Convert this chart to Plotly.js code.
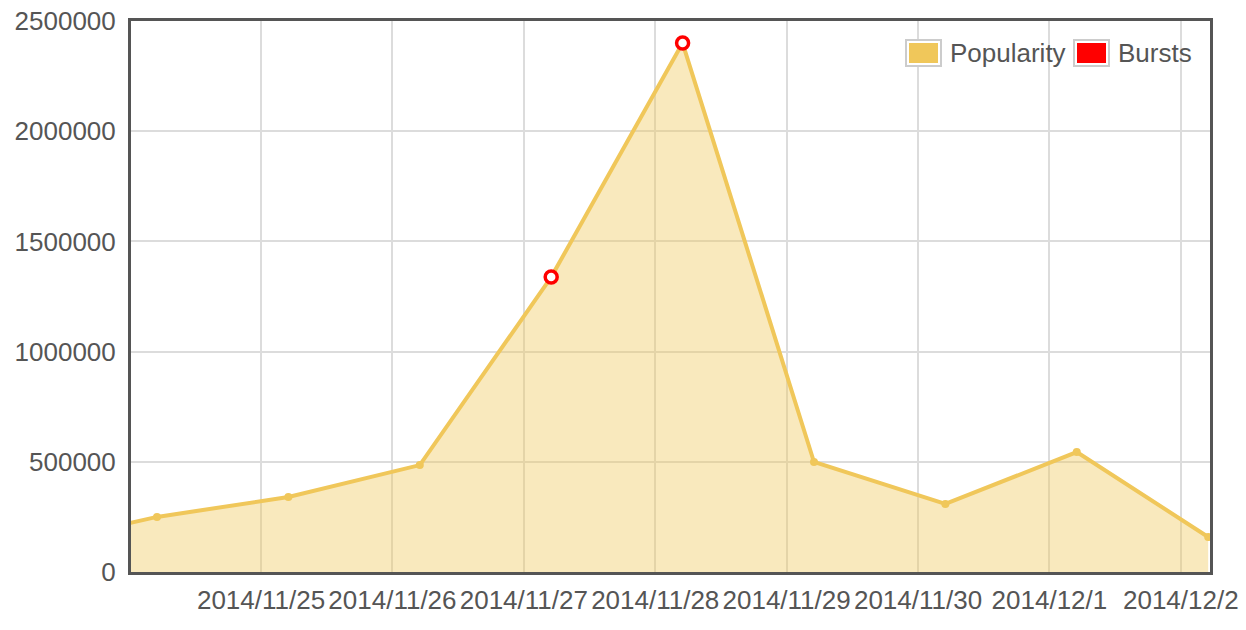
<!DOCTYPE html>
<html>
<head>
<meta charset="utf-8">
<script src="https://cdn.plot.ly/plotly-3.0.1.min.js"></script>
<style>
html,body{margin:0;padding:0;background:#fff;}
#chart{width:1246px;height:630px;}
</style>
</head>
<body>
<div id="chart"></div>
<script>
// ---- data ----
const popDates = ["2014-11-23 05:00","2014-11-24 05:00","2014-11-25 05:00","2014-11-26 05:00","2014-11-27 05:00","2014-11-28 05:00","2014-11-29 05:00","2014-11-30 05:00","2014-12-01 05:00","2014-12-02 05:00"];
const popValues = [115000, 250000, 340000, 485000, 1338000, 2400000, 499000, 309000, 544000, 159000];
const burstDates = ["2014-11-27 05:00","2014-11-28 05:00"];
const burstValues = [1338000, 2400000];
const tickDates = ["2014-11-25","2014-11-26","2014-11-27","2014-11-28","2014-11-29","2014-11-30","2014-12-01","2014-12-02"];
const tickLabels = ["2014/11/25","2014/11/26","2014/11/27","2014/11/28","2014/11/29","2014/11/30","2014/12/1","2014/12/2"];
const yTicks = [0, 500000, 1000000, 1500000, 2000000, 2500000];
const yTickLabels = ["0","500000","1000000","1500000","2000000","2500000"];
const legendNames = ["Popularity", "Bursts"];
const legendColors = ["#f0c75a", "#ff0000"];

// ---- layout helpers ----
const L = 131, R = 1210, T = 21, B = 572;
const W = R - L, H = B - T;
const px = v => (v - L) / W;
const py = v => (B - v) / H;

const font = {family: "Liberation Sans, Arial, sans-serif", size: 26, color: "#555"};

const traces = [
  {
    x: popDates, y: popValues, type: "scatter", mode: "lines+markers",
    name: legendNames[0], fill: "tozeroy",
    fillcolor: "rgba(240,199,90,0.40)",
    line: {color: legendColors[0], width: 4},
    marker: {color: legendColors[0], size: 8},
    showlegend: false
  },
  {
    x: burstDates, y: burstValues, type: "scatter", mode: "markers",
    name: legendNames[1],
    marker: {symbol: "circle", size: 12, color: "#fff", line: {color: legendColors[1], width: 3.5}},
    showlegend: false
  }
];

// custom legend boxes
const shapes = [];
const annotations = [];
const boxX = [906, 1074];
const textX = [948, 1116];
for (let i = 0; i < legendNames.length; i++) {
  shapes.push({type: "rect", xref: "paper", yref: "paper",
    x0: px(boxX[i]), x1: px(boxX[i] + 35), y0: py(66), y1: py(40),
    fillcolor: "#fff", line: {color: "#ccc", width: 2}, layer: "above"});
  shapes.push({type: "rect", xref: "paper", yref: "paper",
    x0: px(boxX[i] + 3), x1: px(boxX[i] + 32), y0: py(63), y1: py(43),
    fillcolor: legendColors[i], line: {width: 0}, layer: "above"});
  annotations.push({xref: "paper", yref: "paper", x: px(textX[i]), y: py(53),
    xanchor: "left", yanchor: "middle", showarrow: false, text: legendNames[i], font: font});
}

const layout = {
  width: 1246, height: 630,
  margin: {l: L, r: 1246 - R, t: T, b: 630 - B},
  paper_bgcolor: "#fff", plot_bgcolor: "#fff",
  showlegend: false,
  font: font,
  xaxis: {
    type: "date",
    range: ["2014-11-24 00:15", "2014-12-02 05:20"],
    tickvals: tickDates, ticktext: tickLabels,
    showgrid: true, gridcolor: "#dcdcdc", gridwidth: 2,
    showline: true, linecolor: "#555", linewidth: 3, mirror: true,
    zeroline: false, ticks: "outside", ticklen: 3, tickcolor: "rgba(0,0,0,0)",
    tickfont: font, fixedrange: true
  },
  yaxis: {
    range: [0, 2500000],
    tickvals: yTicks, ticktext: yTickLabels,
    showgrid: true, gridcolor: "#dcdcdc", gridwidth: 2,
    showline: true, linecolor: "#555", linewidth: 3, mirror: true,
    zeroline: false, ticks: "outside", ticklen: 7, tickcolor: "rgba(0,0,0,0)",
    tickfont: font, fixedrange: true
  },
  shapes: shapes,
  annotations: annotations
};

Plotly.newPlot("chart", traces, layout, {displayModeBar: false, staticPlot: true});
</script>
</body>
</html>
